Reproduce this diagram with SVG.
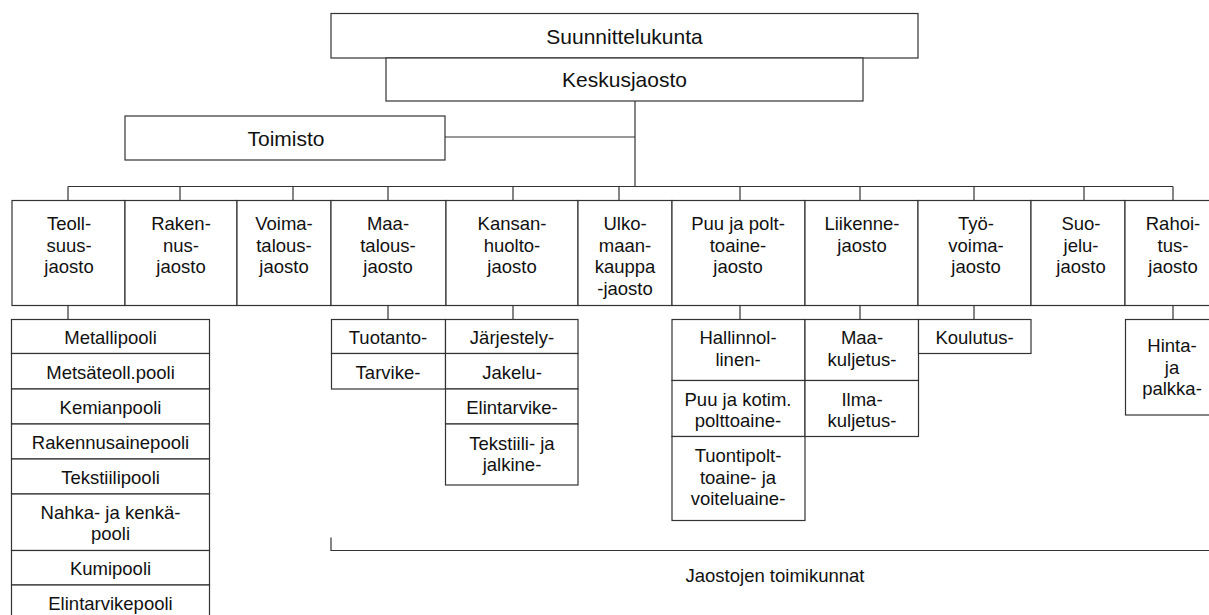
<svg xmlns="http://www.w3.org/2000/svg" width="1209" height="615" viewBox="0 0 1209 615">
<style>
rect{fill:#fff;stroke:#333;stroke-width:1.2}
line,path{stroke:#333;stroke-width:1.2;fill:none}
text{font-family:"Liberation Sans",Arial,sans-serif;font-size:18.5px;fill:#111;text-anchor:middle}
.big{font-size:21px}
</style>
<rect x="0" y="0" width="1209" height="615" style="stroke:none"/>
<g id="connectors">
<line x1="635" y1="101" x2="635" y2="186.5"/>
<line x1="445" y1="137" x2="635" y2="137"/>
<line x1="68" y1="186.5" x2="1173" y2="186.5"/>
<line x1="68" y1="186.5" x2="68" y2="200.5"/>
<line x1="180" y1="186.5" x2="180" y2="200.5"/>
<line x1="293" y1="186.5" x2="293" y2="200.5"/>
<line x1="388" y1="186.5" x2="388" y2="200.5"/>
<line x1="513" y1="186.5" x2="513" y2="200.5"/>
<line x1="619" y1="186.5" x2="619" y2="200.5"/>
<line x1="740" y1="186.5" x2="740" y2="200.5"/>
<line x1="860" y1="186.5" x2="860" y2="200.5"/>
<line x1="974" y1="186.5" x2="974" y2="200.5"/>
<line x1="1084" y1="186.5" x2="1084" y2="200.5"/>
<line x1="1173" y1="186.5" x2="1173" y2="200.5"/>
<line x1="68" y1="305.5" x2="68" y2="319.5"/>
<line x1="388" y1="305.5" x2="388" y2="319.5"/>
<line x1="513" y1="305.5" x2="513" y2="319.5"/>
<line x1="740" y1="305.5" x2="740" y2="319.5"/>
<line x1="860" y1="305.5" x2="860" y2="319.5"/>
<line x1="974" y1="305.5" x2="974" y2="319.5"/>
<line x1="1173" y1="305.5" x2="1173" y2="319.5"/>
<path d="M331 537.5 V550.5 H1210"/>
</g>
<g id="suunnittelukunta"><rect x="331" y="13.5" width="587" height="44.5"/><text class="big" x="624.5" y="43.5">Suunnittelukunta</text></g>
<g id="keskusjaosto"><rect x="386" y="58" width="477" height="43"/><text class="big" x="624.5" y="87">Keskusjaosto</text></g>
<g id="toimisto"><rect x="125" y="116" width="320" height="44"/><text class="big" x="286" y="145.5">Toimisto</text></g>

<g id="teollisuusjaosto"><rect x="12" y="200.5" width="113" height="105"/><text x="69" y="230">Teoll-<tspan x="69" dy="21.5">suus-</tspan><tspan x="69" dy="21.5">jaosto</tspan></text></g>
<g id="rakennusjaosto"><rect x="125" y="200.5" width="112" height="105"/><text x="181" y="230">Raken-<tspan x="181" dy="21.5">nus-</tspan><tspan x="181" dy="21.5">jaosto</tspan></text></g>
<g id="voimatalousjaosto"><rect x="237" y="200.5" width="94" height="105"/><text x="284" y="230">Voima-<tspan x="284" dy="21.5">talous-</tspan><tspan x="284" dy="21.5">jaosto</tspan></text></g>
<g id="maatalousjaosto"><rect x="331" y="200.5" width="115" height="105"/><text x="388" y="230">Maa-<tspan x="388" dy="21.5">talous-</tspan><tspan x="388" dy="21.5">jaosto</tspan></text></g>
<g id="kansanhuoltojaosto"><rect x="446" y="200.5" width="132" height="105"/><text x="512" y="230">Kansan-<tspan x="512" dy="21.5">huolto-</tspan><tspan x="512" dy="21.5">jaosto</tspan></text></g>
<g id="ulkomaankauppajaosto"><rect x="578" y="200.5" width="94" height="105"/><text x="625" y="230">Ulko-<tspan x="625" dy="21.5">maan-</tspan><tspan x="625" dy="21.5">kauppa</tspan><tspan x="625" dy="21.5">-jaosto</tspan></text></g>
<g id="puujapolttoainejaosto"><rect x="672" y="200.5" width="133" height="105"/><text x="738" y="230">Puu ja polt-<tspan x="738" dy="21.5">toaine-</tspan><tspan x="738" dy="21.5">jaosto</tspan></text></g>
<g id="liikennejaosto"><rect x="805" y="200.5" width="113" height="105"/><text x="862" y="230">Liikenne-<tspan x="862" dy="21.5">jaosto</tspan></text></g>
<g id="tyovoimajaosto"><rect x="918" y="200.5" width="113" height="105"/><text x="976" y="230">Työ-<tspan x="976" dy="21.5">voima-</tspan><tspan x="976" dy="21.5">jaosto</tspan></text></g>
<g id="suojelujaosto"><rect x="1031" y="200.5" width="94" height="105"/><text x="1081" y="230">Suo-<tspan x="1081" dy="21.5">jelu-</tspan><tspan x="1081" dy="21.5">jaosto</tspan></text></g>
<g id="rahoitusjaosto"><rect x="1125" y="200.5" width="97" height="105"/><text x="1173" y="230">Rahoi-<tspan x="1173" dy="21.5">tus-</tspan><tspan x="1173" dy="21.5">jaosto</tspan></text></g>

<g id="metallipooli"><rect x="11.5" y="319.5" width="198" height="34"/><text x="110.5" y="344">Metallipooli</text></g>
<g id="metsateollpooli"><rect x="11.5" y="353.5" width="198" height="35.5"/><text x="110.5" y="378.5">Metsäteoll.pooli</text></g>
<g id="kemianpooli"><rect x="11.5" y="389" width="198" height="35"/><text x="110.5" y="414">Kemianpooli</text></g>
<g id="rakennusainepooli"><rect x="11.5" y="424" width="198" height="35"/><text x="110.5" y="448.5">Rakennusainepooli</text></g>
<g id="tekstiilipooli"><rect x="11.5" y="459" width="198" height="35"/><text x="110.5" y="483.5">Tekstiilipooli</text></g>
<g id="nahkajakenkapooli"><rect x="11.5" y="494" width="198" height="56.5"/><text x="110.5" y="519">Nahka- ja kenkä-<tspan x="110.5" dy="21">pooli</tspan></text></g>
<g id="kumipooli"><rect x="11.5" y="550.5" width="198" height="34.5"/><text x="110.5" y="575">Kumipooli</text></g>
<g id="elintarvikepooli"><rect x="11.5" y="585" width="198" height="40"/><text x="110.5" y="610">Elintarvikepooli</text></g>

<g id="tuotanto"><rect x="331.5" y="319.5" width="114" height="34"/><text x="388" y="344">Tuotanto-</text></g>
<g id="tarvike"><rect x="331.5" y="353.5" width="114" height="35.5"/><text x="388" y="378.5">Tarvike-</text></g>
<g id="jarjestely"><rect x="445.5" y="319.5" width="132.5" height="34"/><text x="512" y="344">Järjestely-</text></g>
<g id="jakelu"><rect x="445.5" y="353.5" width="132.5" height="35.5"/><text x="512" y="378.5">Jakelu-</text></g>
<g id="elintarvike"><rect x="445.5" y="389" width="132.5" height="35"/><text x="512" y="414">Elintarvike-</text></g>
<g id="tekstiilijajalkine"><rect x="445.5" y="424" width="132.5" height="61"/><text x="512" y="450">Tekstiili- ja<tspan x="512" dy="21">jalkine-</tspan></text></g>

<g id="hallinnollinen"><rect x="672" y="319.5" width="133" height="61"/><text x="738" y="344">Hallinnol-<tspan x="738" dy="21.5">linen-</tspan></text></g>
<g id="puujakotimpolttoaine"><rect x="672" y="380.5" width="133" height="56"/><text x="738" y="405.5">Puu ja kotim.<tspan x="738" dy="21">polttoaine-</tspan></text></g>
<g id="tuontipolttoaine"><rect x="672" y="436.5" width="133" height="84"/><text x="738" y="462">Tuontipolt-<tspan x="738" dy="21.5">toaine- ja</tspan><tspan x="738" dy="21.5">voiteluaine-</tspan></text></g>
<g id="maakuljetus"><rect x="805" y="319.5" width="113.5" height="61"/><text x="862" y="344">Maa-<tspan x="862" dy="21.5">kuljetus-</tspan></text></g>
<g id="ilmakuljetus"><rect x="805" y="380.5" width="113.5" height="56"/><text x="862" y="405.5">Ilma-<tspan x="862" dy="21">kuljetus-</tspan></text></g>
<g id="koulutus"><rect x="918.5" y="319.5" width="112.5" height="34"/><text x="974.5" y="344">Koulutus-</text></g>
<g id="hintajapalkka"><rect x="1125.5" y="319.5" width="97" height="95.5"/><text x="1172" y="352">Hinta-<tspan x="1172" dy="21.5">ja</tspan><tspan x="1172" dy="21.5">palkka-</tspan></text></g>

<g id="jaostojen-toimikunnat"><text x="775" y="582">Jaostojen toimikunnat</text></g>
</svg>
